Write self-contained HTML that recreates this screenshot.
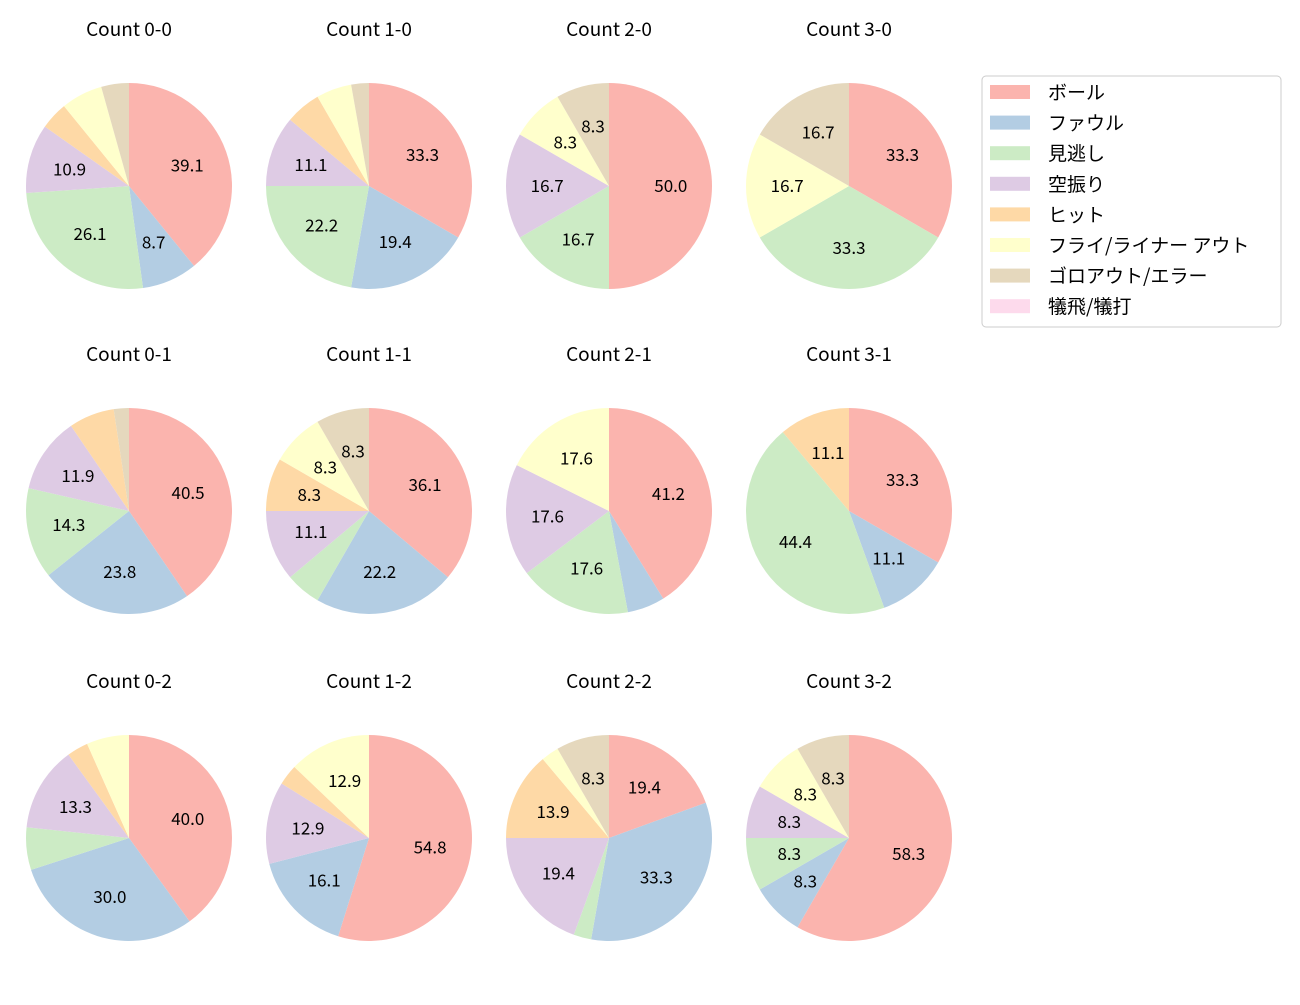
<!DOCTYPE html>
<html><head><meta charset="utf-8"><style>
body{margin:0;background:#fff;}
svg text{font-family:"Noto Sans CJK JP","DejaVu Sans",sans-serif;}
</style></head><body>
<svg id="chart" width="1300" height="1000" viewBox="0 0 1300 1000"></svg>
<script>
const categories = ["ボール","ファウル","見逃し","空振り","ヒット","フライ/ライナー アウト","ゴロアウト/エラー","犠飛/犠打"];
const colors = ["#fbb4ae","#b3cde3","#ccebc5","#decbe4","#fed9a6","#ffffcc","#e5d8bd","#fddaec"];
const titles = ["Count 0-0","Count 1-0","Count 2-0","Count 3-0","Count 0-1","Count 1-1","Count 2-1","Count 3-1","Count 0-2","Count 1-2","Count 2-2","Count 3-2"];
const c00=[18,4,12,5,2,3,2,0];
const c10=[12,7,8,4,2,2,1,0];
const c20=[6,0,2,2,0,1,1,0];
const c30=[2,0,2,0,0,1,1,0];
const c01=[17,10,6,5,3,0,1,0];
const c11=[13,8,2,4,3,3,3,0];
const c21=[7,1,3,3,0,3,0,0];
const c31=[3,1,4,0,1,0,0,0];
const c02=[12,9,2,4,1,2,0,0];
const c12=[17,5,0,4,1,4,0,0];
const c22=[7,12,1,7,5,1,3,0];
const c32=[7,1,1,1,0,1,1,0];
const series=[c00,c10,c20,c30,c01,c11,c21,c31,c02,c12,c22,c32];
const svg=document.getElementById('chart');
const NS='http://www.w3.org/2000/svg';
function mk(t,a,p){const e=document.createElementNS(NS,t);for(const k in a)e.setAttribute(k,a[k]);(p||svg).appendChild(e);return e;}
const colX=[129,369,609,849], rowY=[186,511,838], R=103;
series.forEach((vals,i)=>{
  const cx=colX[i%4], cy=rowY[Math.floor(i/4)];
  const g=mk('g',{});
  
  
  const t=mk('text',{x:cx,y:cy-150,'text-anchor':'middle','font-size':19,fill:'#000'},g);
  t.textContent=titles[i];
  
  
  const total=vals.reduce((a,b)=>a+b,0);
  let a0=90;
  vals.forEach((v,k)=>{
    if(v<=0)return;
    const frac=v/total, a1=a0-frac*360;
    const r0=a0*Math.PI/180, r1=a1*Math.PI/180;
    let el;
    if(frac>=0.9999){el=mk('circle',{cx:cx,cy:cy,r:R,fill:colors[k]},g);}
    else{
      const x0=cx+R*Math.cos(r0),y0=cy-R*Math.sin(r0),x1=cx+R*Math.cos(r1),y1=cy-R*Math.sin(r1);
      el=mk('path',{d:`M${cx},${cy} L${x0},${y0} A${R},${R} 0 ${frac>0.5?1:0} 1 ${x1},${y1} Z`,fill:colors[k]},g);
    }
    
    
    const pct=frac*100;
    if(pct>=8){
      const am=(a0+a1)/2*Math.PI/180;
      const lt=mk('text',{x:cx+0.6*R*Math.cos(am),y:cy-0.6*R*Math.sin(am)+6,'text-anchor':'middle','font-size':17,fill:'#000'},g);
      lt.textContent=pct.toFixed(1);
      
      
    }
    a0=a1;
  });
});
const lg=mk('g',{});


mk('rect',{x:982,y:76,width:299,height:251,rx:4,fill:'#fff',stroke:'#ccc'},lg);
categories.forEach((c,k)=>{
  const y=92+k*30.6;
  const sw=mk('rect',{x:990,y:y-7,width:40,height:14,fill:colors[k]},lg);
  
  
  const t=mk('text',{x:1048,y:y+7,'font-size':19,fill:'#000'},lg);
  t.textContent=c;
  
  
});
</script>
</body></html>
